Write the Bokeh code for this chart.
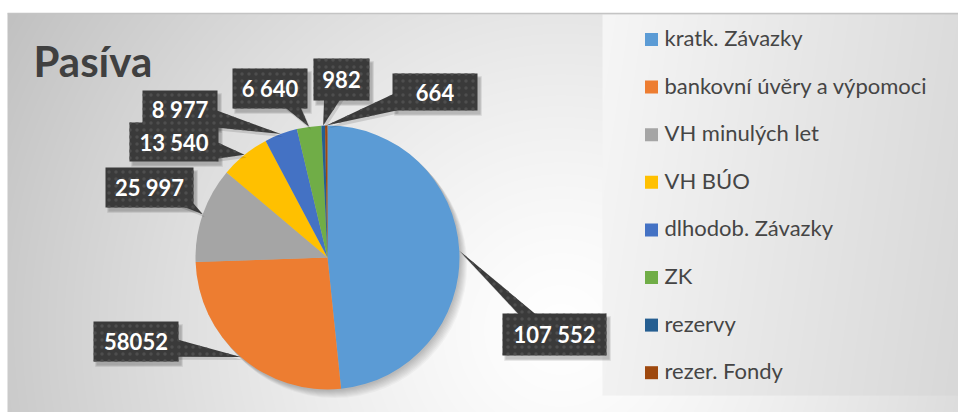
import numpy as np
from bokeh.plotting import figure
from bokeh.models import Range1d, ColumnDataSource
from bokeh.embed import file_html
from bokeh.resources import INLINE
from bokeh.core.properties import value

# ---------------- data ----------------
title_text = "Pasíva"
categories = ["kratk. Závazky", "bankovní úvěry a výpomoci", "VH minulých let",
              "VH BÚO", "dlhodob. Závazky", "ZK", "rezervy", "rezer. Fondy"]
values = [107552, 58052, 25997, 13540, 8977, 6640, 982, 664]
value_labels = ["107 552", "58052", "25 997", "13 540", "8 977", "6 640", "982", "664"]
colors = ["#5B9BD5", "#ED7D31", "#A5A5A5", "#FFC000", "#4472C4", "#70AD47",
          "#255E91", "#9E480E"]

# ---------------- layout (pixels, y up) ----------------
W, H = 958, 412
CX, CY, R = 327, 155, 132
# label box centers and sizes
box_x = [554, 135.5, 149, 173.5, 179.5, 269.5, 341, 434.5]
box_y = [78, 71, 225, 270.5, 303.5, 324, 333, 320.5]
box_w = [104, 85, 88, 89, 75, 75, 56, 85]
box_h = [42, 40, 40, 39, 37, 40, 42, 37]

p = figure(width=W, height=H, x_range=Range1d(0, W), y_range=Range1d(0, H),
           output_backend="svg", toolbar_location=None, min_border=0,
           x_axis_location=None, y_axis_location=None)
p.grid.visible = False
p.outline_line_color = None
p.background_fill_color = "white"
p.border_fill_color = "white"

# ---------------- background gradient ----------------
BG_X0, BG_TOP = 7, 399
BW = W - BG_X0
yy, xx = np.mgrid[0:BG_TOP, 0:BW]
xx = xx + BG_X0
d = np.sqrt((xx - 560.0) ** 2 + (yy - 82.0) ** 2) / 636.0
g = np.clip(255 - 62 * np.clip(d, 0, 1.2) ** 1.3, 0, 255).astype(np.uint8)
img = np.empty((BG_TOP, BW), dtype=np.uint32)
v = img.view(dtype=np.uint8).reshape((BG_TOP, BW, 4))
v[:, :, 0] = g
v[:, :, 1] = g
v[:, :, 2] = g
v[:, :, 3] = 255
p.image_rgba(image=[img], x=BG_X0, y=0, dw=BW, dh=BG_TOP)

# legend panel gradient
LX0, LY0 = 602, 17
LW, LH = W - LX0, 381
ly, lx = np.mgrid[0:LH, 0:LW]
lg = (246 - 26 * (lx / LW) - 4 * (1 - ly / LH)).astype(np.uint8)
limg = np.empty((LH, LW), dtype=np.uint32)
lv = limg.view(dtype=np.uint8).reshape((LH, LW, 4))
lv[:, :, 0] = lg
lv[:, :, 1] = lg
lv[:, :, 2] = lg
lv[:, :, 3] = 255
p.image_rgba(image=[limg], x=LX0, y=LY0, dw=LW, dh=LH)

# top border line
p.line([BG_X0, W], [BG_TOP, BG_TOP], line_color="#c4c4c4", line_width=1.5)

# ---------------- pie ----------------
vals = np.array(values, dtype=float)
frac = vals / vals.sum()
cum = np.cumsum(frac)
start = np.pi / 2 - 2 * np.pi * (cum - frac)
end = np.pi / 2 - 2 * np.pi * cum

# soft shadow (right / bottom)
for k in range(1, 9):
    p.circle(x=CX + k * 0.9, y=CY - k * 1.0, radius=R + 0.5, fill_color="black",
             fill_alpha=0.03, line_color=None)

src = ColumnDataSource(dict(start=start, end=end, color=colors, cat=categories))
p.wedge(x=CX, y=CY, radius=R, start_angle="start", end_angle="end",
        direction="clock", fill_color="color", line_color=None, source=src)

# ---------------- callout labels ----------------
mid = cum - frac / 2
ang = np.pi / 2 - 2 * np.pi * mid
ax = CX + R * np.cos(ang)
ay = CY + R * np.sin(ang)

ptr_xs, ptr_ys = [], []
for i in range(len(values)):
    bx, by, hw, hh = box_x[i], box_y[i], box_w[i] / 2, box_h[i] / 2
    dx, dy = ax[i] - bx, ay[i] - by
    tx = hw / abs(dx) if dx != 0 else 1e9
    ty = hh / abs(dy) if dy != 0 else 1e9
    half = 9
    if tx < ty:  # exits through left/right edge
        ex = bx + np.sign(dx) * hw
        ey = by + dy * tx
        ey = min(max(ey, by - hh + half), by + hh - half)
        inset = -np.sign(dx) * 4
        pts = [(ex + inset, ey - half), (ex + inset, ey + half), (ax[i], ay[i])]
    else:  # exits through top/bottom edge
        ey = by + np.sign(dy) * hh
        ex = bx + dx * ty
        ex = min(max(ex, bx - hw + half), bx + hw - half)
        inset = -np.sign(dy) * 4
        pts = [(ex - half, ey + inset), (ex + half, ey + inset), (ax[i], ay[i])]
    ptr_xs.append([q[0] for q in pts])
    ptr_ys.append([q[1] for q in pts])

lab = ColumnDataSource(dict(x=box_x, y=box_y, w=box_w, h=box_h, t=value_labels))

# shadows of boxes
for k, a in [(0, 0.10), (1.5, 0.08), (3, 0.06)]:
    p.rect(x=[x + 3 for x in box_x], y=[y - 4 for y in box_y],
           width=[w + k for w in box_w], height=[h + k for h in box_h],
           fill_color="black", fill_alpha=a, line_color=None)
p.patches(xs=[[x + 2 for x in xs] for xs in ptr_xs], ys=[[y - 3 for y in ys] for ys in ptr_ys],
          fill_color="black", fill_alpha=0.12, line_color=None)

p.patches(xs=ptr_xs, ys=ptr_ys, fill_color="#3a3a3a", line_color=None,
          hatch_pattern="dot", hatch_color="#4e4e4e", hatch_scale=7, hatch_weight=1)
p.rect(x="x", y="y", width="w", height="h", source=lab, fill_color="#3a3a3a",
       line_color=None, hatch_pattern="dot", hatch_color="#4e4e4e",
       hatch_scale=7, hatch_weight=1)
p.text(x="x", y="y", text="t", source=lab, text_color="white",
       text_font=value("Lato"), text_font_style="bold", text_font_size="22px",
       text_align="center", text_baseline="middle")

# ---------------- title ----------------
p.text(x=[33], y=[352], text=[title_text], text_color="#404040",
       text_font=value("Lato"), text_font_style="bold", text_font_size="42px",
       text_align="left", text_baseline="alphabetic")

# ---------------- legend ----------------
leg_y = [373 - i * 47.6 for i in range(len(categories))]
p.rect(x=[651] * len(categories), y=leg_y, width=13, height=13,
       fill_color=colors, line_color=None)
p.text(x=[664] * len(categories), y=[yv + 2 for yv in leg_y], text=categories,
       text_color="#454545", text_font=value("Lato"), text_font_size="22px",
       text_baseline="middle")

open("out.html", "w").write(file_html(p, INLINE))
